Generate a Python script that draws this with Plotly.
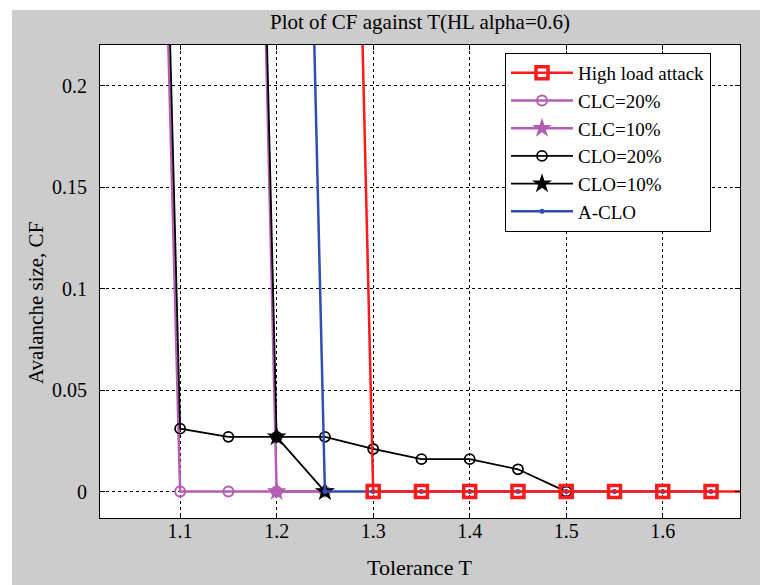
import plotly.graph_objects as go

# ---- data ----
T_hl = [1.25, 1.3, 1.35, 1.4, 1.45, 1.5, 1.55, 1.6, 1.65, 1.7]
cf_hl = [1.0, 0, 0, 0, 0, 0, 0, 0, 0, 0]

T_clc20 = [1.05, 1.1, 1.15, 1.2, 1.25]
cf_clc20 = [0.9, 0, 0, 0, 0]

T_clc10 = [1.15, 1.2, 1.25]
cf_clc10 = [1.0, 0, 0]

T_clo20 = [1.05, 1.1, 1.15, 1.2, 1.25, 1.3, 1.35, 1.4, 1.45, 1.5]
cf_clo20 = [0.95, 0.031, 0.027, 0.027, 0.027, 0.021, 0.016, 0.016, 0.011, 0]

T_clo10 = [1.15, 1.2, 1.25]
cf_clo10 = [1.0, 0.027, 0]

T_aclo = [1.2, 1.25, 1.3, 1.35, 1.4, 1.45, 1.5, 1.55, 1.6, 1.65]
cf_aclo = [1.0, 0, 0, 0, 0, 0, 0, 0, 0, 0]

x_ticks = [1.1, 1.2, 1.3, 1.4, 1.5, 1.6]
x_ticktext = ["1.1", "1.2", "1.3", "1.4", "1.5", "1.6"]
y_ticks = [0, 0.05, 0.1, 0.15, 0.2]
y_ticktext = ["0", "0.05", "0.1", "0.15", "0.2"]

RED = "#ff1a1a"
MAG = "#b35db3"
BLK = "#000000"
BLUE = "#2f4fb3"
FONT = "Liberation Serif"

fig = go.Figure()

fig.add_trace(go.Scatter(x=T_clc20, y=cf_clc20, name="CLC=20%", legendrank=2,
                         mode="lines+markers", line=dict(color=MAG, width=2.5),
                         marker=dict(symbol="circle-open", size=10, color=MAG,
                                     line=dict(width=2, color=MAG))))
fig.add_trace(go.Scatter(x=T_clc10, y=cf_clc10, name="CLC=10%", legendrank=3,
                         mode="lines+markers", line=dict(color=MAG, width=2.5),
                         marker=dict(symbol="star", size=15, color=MAG)))
fig.add_trace(go.Scatter(x=T_clo20, y=cf_clo20, name="CLO=20%", legendrank=4,
                         mode="lines+markers", line=dict(color=BLK, width=1.8),
                         marker=dict(symbol="circle-open", size=10, color=BLK,
                                     line=dict(width=1.8, color=BLK))))
fig.add_trace(go.Scatter(x=T_clo10, y=cf_clo10, name="CLO=10%", legendrank=5,
                         mode="lines+markers", line=dict(color=BLK, width=1.8),
                         marker=dict(symbol="star", size=15, color=BLK)))
fig.add_trace(go.Scatter(x=T_aclo, y=cf_aclo, name="A-CLO", legendrank=6,
                         mode="lines+markers", line=dict(color=BLUE, width=2.5),
                         marker=dict(symbol="circle", size=5, color=BLUE)))
fig.add_trace(go.Scatter(x=T_hl, y=cf_hl, name="High load attack", legendrank=1,
                         mode="lines+markers", line=dict(color=RED, width=2.5),
                         marker=dict(symbol="square-open", size=12, color=RED,
                                     line=dict(width=3.5, color=RED))))

W, H = 760, 585
ML, MR, MT, MB = 100, 20, 45, 67
PW, PH = W - ML - MR, H - MT - MB


def px_x(px):
    return (px - ML) / PW


def px_y(py):
    return (H - MB - py) / PH


fig.update_layout(
    width=W, height=H,
    margin=dict(l=ML, r=MR, t=MT, b=MB),
    paper_bgcolor="#cccccc",
    plot_bgcolor="#ffffff",
    font=dict(family=FONT, size=20, color="#000000"),
    title=dict(text="Plot of CF against T(HL alpha=0.6)", x=0.5, xref="paper",
               xanchor="center", y=1 - 22 / H, yref="container", yanchor="middle",
               font=dict(family=FONT, size=21, color="#000000")),
    showlegend=True,
    legend=dict(x=px_x(505), y=px_y(53), xanchor="left", yanchor="top",
                bgcolor="#ffffff", bordercolor="#000000", borderwidth=1,
                font=dict(family=FONT, size=19, color="#000000"),
                itemwidth=62, tracegroupgap=0),
    shapes=[
        dict(type="rect", xref="paper", yref="paper", layer="below",
             x0=px_x(0), x1=px_x(12), y0=px_y(H), y1=px_y(0),
             fillcolor="#ffffff", line=dict(width=0)),
        dict(type="rect", xref="paper", yref="paper", layer="below",
             x0=px_x(0), x1=px_x(W), y0=px_y(10), y1=px_y(0),
             fillcolor="#ffffff", line=dict(width=0)),
    ],
    annotations=[
        dict(text="Tolerance T", xref="paper", yref="paper", x=0.5, y=px_y(567),
             xanchor="center", yanchor="middle", showarrow=False,
             font=dict(family=FONT, size=22, color="#000000")),
        dict(text="Avalanche size, CF", xref="paper", yref="paper", x=px_x(36),
             y=px_y(303), xanchor="center", yanchor="middle", textangle=-90,
             showarrow=False, font=dict(family=FONT, size=21, color="#000000")),
    ],
)

fig.update_xaxes(range=[1.017, 1.68], tickvals=x_ticks, ticktext=x_ticktext,
                 ticks="inside", ticklen=5, tickcolor="#000000",
                 showline=True, linecolor="#000000", linewidth=1, mirror="ticks",
                 showgrid=True, gridcolor="#000000", gridwidth=1, griddash="3px,3px",
                 zeroline=False, ticklabelstandoff=-5,
                 tickfont=dict(family=FONT, size=20, color="#000000"))
fig.update_yaxes(range=[-0.013, 0.22], tickvals=y_ticks, ticktext=y_ticktext,
                 ticks="inside", ticklen=5, tickcolor="#000000",
                 showline=True, linecolor="#000000", linewidth=1, mirror="ticks",
                 showgrid=True, gridcolor="#000000", gridwidth=1, griddash="3px,3px",
                 zeroline=False, ticklabelstandoff=8,
                 tickfont=dict(family=FONT, size=20, color="#000000"))

fig.write_html("out.html", config={"displayModeBar": False},
               post_script="document.body.style.margin='0px';document.body.style.padding='0px';")
